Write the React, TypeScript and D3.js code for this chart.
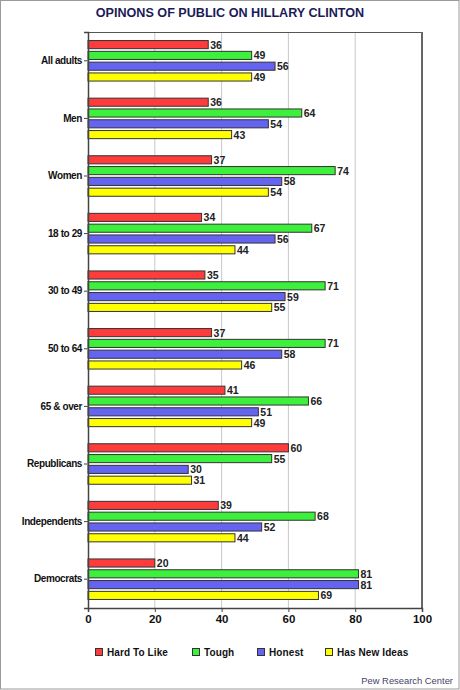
import React, { useEffect, useRef } from 'react'
import * as d3 from 'd3'

const categories = [
  'All adults',
  'Men',
  'Women',
  '18 to 29',
  '30 to 49',
  '50 to 64',
  '65 & over',
  'Republicans',
  'Independents',
  'Democrats',
]

const seriesNames = ['Hard To Like', 'Tough', 'Honest', 'Has New Ideas']
const seriesColors = ['#ff3c3c', '#3cf03c', '#6464f0', '#ffff00']

const hardToLike = [36, 36, 37, 34, 35, 37, 41, 60, 39, 20]
const tough = [49, 64, 74, 67, 71, 71, 66, 55, 68, 81]
const honest = [56, 54, 58, 56, 59, 58, 51, 30, 52, 81]
const hasNewIdeas = [49, 43, 54, 44, 55, 46, 49, 31, 44, 69]

const xTicks = [0, 20, 40, 60, 80, 100]

const W = 460
const H = 690
const margin = { top: 32, right: 38, bottom: 82, left: 88 }
const font = '"Liberation Sans", Arial, sans-serif'

const App: React.FC = () => {
  const svgRef = useRef<SVGSVGElement>(null)

  useEffect(() => {
    if (!svgRef.current) return
    const svg = d3.select(svgRef.current)
    svg.selectAll('*').remove()

    const innerW = W - margin.left - margin.right
    const innerH = H - margin.top - margin.bottom
    const series = [hardToLike, tough, honest, hasNewIdeas]

    // background + outer frame
    svg.append('rect').attr('width', W).attr('height', H).attr('fill', '#fff')
    svg
      .append('rect')
      .attr('x', 0.5)
      .attr('y', 0.5)
      .attr('width', W - 1.5)
      .attr('height', H - 1.5)
      .attr('fill', 'none')
      .attr('stroke', '#9a9a9a')

    svg
      .append('text')
      .attr('x', W / 2)
      .attr('y', 17)
      .attr('text-anchor', 'middle')
      .style('font-family', font)
      .style('font-size', '12.6px')
      .style('font-weight', 'bold')
      .style('fill', '#1b1b5a')
      .text('OPINONS OF PUBLIC ON HILLARY CLINTON')

    const g = svg.append('g').attr('transform', `translate(${margin.left},${margin.top})`)

    const x = d3.scaleLinear().domain([0, 100]).range([0, innerW])
    const y = d3.scaleBand().domain(categories).range([0, innerH]).paddingInner(0.25).paddingOuter(0.125)
    const ySub = d3
      .scaleBand<number>()
      .domain(d3.range(series.length))
      .range([0, y.bandwidth()])
      .paddingInner(0.25)
      .paddingOuter(0.125)

    // gridlines
    g.selectAll('.grid')
      .data(xTicks.slice(1, -1))
      .enter()
      .append('line')
      .attr('x1', d => x(d))
      .attr('x2', d => x(d))
      .attr('y1', 0)
      .attr('y2', innerH)
      .attr('stroke', '#c8c8c8')

    // plot frame top/right
    g.append('line').attr('x1', 0).attr('x2', innerW).attr('y1', 0.5).attr('y2', 0.5).attr('stroke', '#555')
    g.append('line')
      .attr('x1', innerW)
      .attr('x2', innerW)
      .attr('y1', 0)
      .attr('y2', innerH)
      .attr('stroke', '#666')
      .attr('stroke-width', 2)

    const groups = g
      .selectAll('.cat')
      .data(categories)
      .enter()
      .append('g')
      .attr('transform', d => `translate(0,${y(d)})`)

    groups.each(function (_c, ci) {
      const grp = d3.select(this)
      series.forEach((vals, si) => {
        const v = vals[ci]
        grp
          .append('rect')
          .attr('x', x(0))
          .attr('y', ySub(si)!)
          .attr('width', x(v) - x(0))
          .attr('height', ySub.bandwidth())
          .attr('fill', seriesColors[si])
          .attr('stroke', '#333')
          .attr('stroke-width', 1)
        grp
          .append('text')
          .attr('x', x(v) + 2)
          .attr('y', ySub(si)! + ySub.bandwidth() / 2 + 4)
          .style('font-family', font)
          .style('font-size', '10.5px')
          .style('font-weight', 'bold')
          .style('fill', '#222')
          .text(v)
      })
    })

    // axes
    const yAxis = g.append('g').call(d3.axisLeft(y).tickSize(4).tickPadding(2))
    const xAxis = g
      .append('g')
      .attr('transform', `translate(0,${innerH})`)
      .call(d3.axisBottom(x).tickValues(xTicks).tickSize(4).tickPadding(3))

    ;[xAxis, yAxis].forEach(a => {
      a.selectAll('.domain').attr('stroke', '#444').attr('stroke-width', 1.5)
      a.selectAll('.tick line').attr('stroke', '#444')
      a.selectAll('text')
        .style('font-family', font)
        .style('font-size', '10px')
        .style('font-weight', 'bold')
        .style('fill', '#111')
    })
    yAxis.selectAll('text').style('letter-spacing', '-0.4px')
    xAxis.selectAll('text').style('font-size', '11.5px')

    // legend
    const legendX = [95, 192, 257, 325]
    const legend = svg.append('g').attr('transform', `translate(0,648)`)
    seriesNames.forEach((name, i) => {
      legend
        .append('rect')
        .attr('x', legendX[i] + 0.5)
        .attr('y', 0.5)
        .attr('width', 7)
        .attr('height', 7)
        .attr('fill', seriesColors[i])
        .attr('stroke', '#333')
      legend
        .append('text')
        .attr('x', legendX[i] + 12)
        .attr('y', 8)
        .style('font-family', font)
        .style('font-size', '10px')
        .style('font-weight', 'bold')
        .style('letter-spacing', '0.1px')
        .style('fill', '#111')
        .text(name)
    })

    svg
      .append('text')
      .attr('x', 453)
      .attr('y', 684)
      .attr('text-anchor', 'end')
      .style('font-family', font)
      .style('font-size', '9.4px')
      .style('fill', '#444466')
      .text('Pew Research Center')
  }, [])

  return (
    <div style={{ position: 'absolute', left: 0, top: 0 }}>
      <svg ref={svgRef} width={W} height={H} style={{ display: 'block' }} />
    </div>
  )
}

export default App
